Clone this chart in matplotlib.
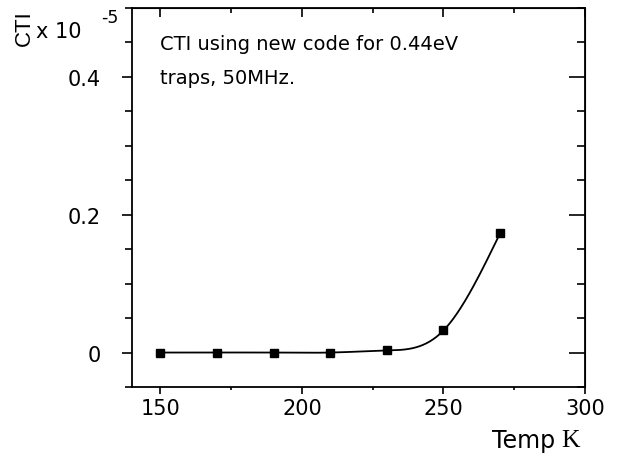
import matplotlib
matplotlib.use("Agg")
import matplotlib.pyplot as plt
import numpy as np
from matplotlib.ticker import MultipleLocator

plt.rcParams["font.family"] = ["DejaVu Sans"]

temps = [150, 170, 190, 210, 230, 250, 270]
cti = [0.0, 0.0, 0.0, 0.0, 0.003, 0.032, 0.173]


def natural_spline(x, y, n=300):
    x = np.asarray(x, dtype=float)
    y = np.asarray(y, dtype=float)
    m = len(x)
    h = np.diff(x)
    A = np.zeros((m, m))
    b = np.zeros(m)
    A[0, 0] = A[-1, -1] = 1.0
    for i in range(1, m - 1):
        A[i, i - 1] = h[i - 1]
        A[i, i] = 2 * (h[i - 1] + h[i])
        A[i, i + 1] = h[i]
        b[i] = 6 * ((y[i + 1] - y[i]) / h[i] - (y[i] - y[i - 1]) / h[i - 1])
    M = np.linalg.solve(A, b)
    xs = np.linspace(x[0], x[-1], n)
    idx = np.clip(np.searchsorted(x, xs) - 1, 0, m - 2)
    x0, x1 = x[idx], x[idx + 1]
    hh = x1 - x0
    t0, t1 = x1 - xs, xs - x0
    ys = (M[idx] * t0 ** 3 + M[idx + 1] * t1 ** 3) / (6 * hh) \
        + (y[idx] / hh - M[idx] * hh / 6) * t0 + (y[idx + 1] / hh - M[idx + 1] * hh / 6) * t1
    return xs, ys


fig = plt.figure(figsize=(6.24, 4.6), dpi=100)
# frame in pixels: left 132, right 585, top 9, bottom 388
ax = fig.add_axes([132 / 624, 1 - 388 / 460, (585 - 132) / 624, (388 - 9) / 460])

xs, ys = natural_spline(temps, cti)
ax.plot(xs, ys, color="black", linewidth=1.3)
ax.plot(temps, cti, "s", color="black", markersize=6)

ax.set_xlim(140, 300)
ax.set_ylim(-0.05, 0.5)
ax.set_xticks([150, 200, 250, 300])
ax.xaxis.set_minor_locator(MultipleLocator(25))
ax.set_yticks([0, 0.2, 0.4])
ax.set_yticklabels(["0", "0.2", "0.4"])
ax.yaxis.set_minor_locator(MultipleLocator(0.05))

for s in ax.spines.values():
    s.set_linewidth(1.3)
ax.tick_params(axis="x", which="major", direction="out", length=5, width=1.2,
               labelsize=15, pad=3)
ax.tick_params(axis="x", which="minor", direction="out", length=2.5, width=1.2)
ax.tick_params(axis="y", which="major", direction="out", length=7.5, width=1.2,
               labelsize=15, pad=15)
ax.tick_params(axis="y", which="minor", direction="out", length=5, width=1.2)

# ticks on the opposite sides point inward
axr = ax.secondary_yaxis("right")
axr.set_yticks([0, 0.2, 0.4])
axr.yaxis.set_minor_locator(MultipleLocator(0.05))
axr.tick_params(which="major", direction="in", length=11.5, width=1.2, labelright=False)
axr.tick_params(which="minor", direction="in", length=6, width=1.2)
axt = ax.secondary_xaxis("top")
axt.set_xticks([150, 200, 250, 300])
axt.xaxis.set_minor_locator(MultipleLocator(25))
axt.tick_params(which="major", direction="in", length=6.5, width=1.2, labeltop=False)
axt.tick_params(which="minor", direction="in", length=3.5, width=1.2)

ax.text(160 / 624, 1 - 45 / 460, "CTI using new code for 0.44eV", transform=fig.transFigure,
        fontsize=14, va="center")
ax.text(160 / 624, 1 - 79 / 460, "traps, 50MHz.", transform=fig.transFigure,
        fontsize=14, va="center")

fig.text(555 / 624, 1 - 441 / 460, "Temp", ha="right", va="center", fontsize=17)
fig.text(561 / 624, 1 - 441 / 460, "K", ha="left", va="center", fontsize=18.5,
         family="Liberation Serif")
fig.text(24 / 624, 1 - 28 / 460, "CTI", rotation=90, ha="center", va="center",
         fontsize=16, family="Liberation Sans")
fig.text(36 / 624, 1 - 32 / 460, "x 10", ha="left", va="center", fontsize=15)
fig.text(101 / 624, 1 - 18 / 460, "-5", ha="left", va="center", fontsize=12.5)

fig.savefig("out.png", dpi=100)
